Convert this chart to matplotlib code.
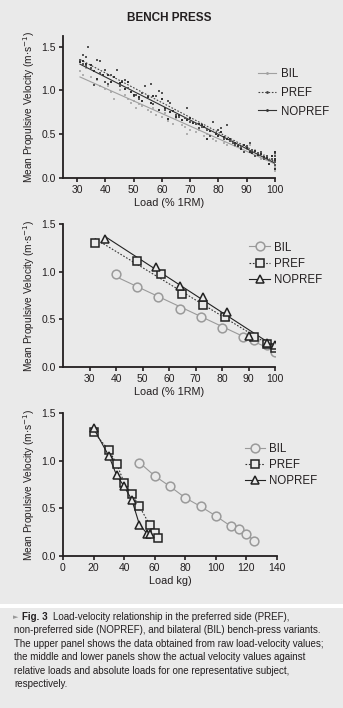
import matplotlib.pyplot as plt
import numpy as np
from matplotlib.patches import Rectangle

plt.rcParams['font.family'] = ['Liberation Sans Narrow', 'Liberation Sans', 'DejaVu Sans']
BG = '#eaeaea'
INK = '#231f20'

# ---- upper panel: raw load-velocity values ----
pref_raw_x = [31, 32, 32, 33, 33, 34, 35, 36, 37, 38, 38, 40, 40, 41, 42, 44, 45, 46, 47, 48,
              50, 51, 52, 53, 54, 55, 56, 57, 58, 59, 60, 61, 62, 63, 64, 65, 66, 68, 69, 70,
              72, 73, 74, 76, 77, 78, 79, 80, 81, 82, 83, 84, 85, 86, 88, 89, 90, 91, 92, 93,
              94, 95, 96, 97, 98, 99, 100, 100, 100, 100]
pref_raw_y = [1.35, 1.40, 1.30, 1.28, 1.38, 1.49, 1.25, 1.06, 1.35, 1.33, 1.20, 1.23, 1.10, 1.07, 1.17, 1.23, 1.05, 1.11, 1.12, 1.03,
              0.93, 0.95, 0.90, 0.97, 1.05, 0.93, 1.07, 0.84, 0.93, 0.99, 0.97, 0.78, 0.88, 0.86, 0.77, 0.72, 0.70, 0.68, 0.80, 0.64,
              0.62, 0.57, 0.58, 0.55, 0.48, 0.64, 0.51, 0.55, 0.57, 0.45, 0.60, 0.42, 0.40, 0.38, 0.35, 0.30, 0.36, 0.40, 0.32, 0.25,
              0.28, 0.30, 0.22, 0.25, 0.20, 0.22, 0.18, 0.25, 0.15, 0.28]
nopref_raw_x = [31, 32, 33, 35, 36, 37, 39, 41, 42, 43, 45, 46, 47, 48, 49, 50, 52, 53, 55, 56,
                57, 59, 60, 61, 62, 63, 64, 65, 66, 67, 69, 70, 71, 73, 74, 75, 76, 77, 79, 80,
                81, 82, 83, 84, 86, 87, 88, 89, 90, 91, 92, 93, 94, 95, 96, 97, 98, 99, 100, 100,
                100, 100]
nopref_raw_y = [1.32, 1.34, 1.30, 1.29, 1.22, 1.13, 1.18, 1.17, 1.10, 1.15, 1.08, 1.10, 1.02, 1.09, 0.98, 0.95, 0.92, 0.88, 0.92, 0.85,
                0.94, 0.78, 0.90, 0.80, 0.67, 0.75, 0.77, 0.70, 0.72, 0.66, 0.66, 0.68, 0.63, 0.62, 0.60, 0.58, 0.45, 0.54, 0.50, 0.48,
                0.52, 0.47, 0.44, 0.45, 0.40, 0.36, 0.33, 0.38, 0.34, 0.30, 0.28, 0.31, 0.26, 0.27, 0.24, 0.23, 0.16, 0.25, 0.20, 0.22,
                0.10, 0.30]
bil_raw_x = [31, 32, 33, 35, 37, 38, 40, 41, 42, 43, 45, 47, 48, 49, 50, 51, 52, 53, 55, 56,
             57, 58, 60, 61, 62, 64, 65, 67, 68, 69, 70, 72, 73, 75, 76, 78, 79, 80, 82, 83,
             85, 86, 88, 89, 90, 91, 92, 93, 94, 95, 96, 97, 98, 99, 100, 100, 100, 100]
bil_raw_y = [1.22, 1.18, 1.25, 1.15, 1.12, 1.05, 1.02, 1.05, 0.98, 0.90, 1.00, 0.95, 0.90, 0.85, 0.88, 0.80, 0.84, 0.82, 0.78, 0.75,
             0.80, 0.72, 0.70, 0.74, 0.65, 0.62, 0.68, 0.60, 0.58, 0.50, 0.55, 0.52, 0.55, 0.48, 0.50, 0.45, 0.42, 0.48, 0.40, 0.38,
             0.42, 0.36, 0.35, 0.30, 0.33, 0.38, 0.30, 0.32, 0.28, 0.22, 0.26, 0.25, 0.21, 0.18, 0.19, 0.12, 0.08, 0.26]

# ---- middle panel: one subject, relative load (% 1RM) ----
bil_rel_x = [40, 48, 56, 64, 72, 80, 88, 92, 97, 100]
bil_rel_y = [0.98, 0.84, 0.73, 0.61, 0.52, 0.41, 0.31, 0.28, 0.235, 0.16]
pref_rel_x = [32, 48, 57, 65, 73, 81, 92, 97, 100]
pref_rel_y = [1.30, 1.11, 0.98, 0.77, 0.65, 0.52, 0.31, 0.24, 0.20]
nopref_rel_x = [36, 55, 64, 73, 82, 90, 97, 100]
nopref_rel_y = [1.34, 1.05, 0.85, 0.73, 0.58, 0.33, 0.25, 0.23]

# ---- lower panel: same subject, absolute load (kg) ----
bil_kg_x = [50, 60, 70, 80, 90, 100, 110, 115, 120, 125]
bil_kg_y = [0.98, 0.84, 0.73, 0.61, 0.52, 0.42, 0.31, 0.28, 0.235, 0.155]
pref_kg_x = [20, 30, 35, 40, 45, 50, 57, 60, 62]
pref_kg_y = [1.30, 1.11, 0.97, 0.77, 0.65, 0.52, 0.32, 0.24, 0.19]
nopref_kg_x = [20, 30, 35, 40, 45, 50, 55, 57]
nopref_kg_y = [1.34, 1.05, 0.85, 0.73, 0.59, 0.33, 0.235, 0.23]

ylabel = 'Mean Propulsive Velocity (m$\\cdot$s$^{-1}$)'
caption = ['Load-velocity relationship in the preferred side (PREF),',
           'non-preferred side (NOPREF), and bilateral (BIL) bench-press variants.',
           'The upper panel shows the data obtained from raw load-velocity values;',
           'the middle and lower panels show the actual velocity values against',
           'relative loads and absolute loads for one representative subject,',
           'respectively.']

W, H = 343, 708
fig = plt.figure(figsize=(W / 100, H / 100), dpi=100, facecolor=BG)
TICKFONT = ['Liberation Sans', 'DejaVu Sans']


def box(l, r, t, b):
    return [l / W, 1 - b / H, (r - l) / W, (b - t) / H]


def style(ax):
    ax.set_facecolor(BG)
    for s in ['top', 'right']:
        ax.spines[s].set_visible(False)
    for s in ['left', 'bottom']:
        ax.spines[s].set_linewidth(1.3)
        ax.spines[s].set_color(INK)
    ax.tick_params(direction='out', length=3, width=1.2, labelsize=7.5, colors=INK, pad=2)
    ax.set_ylabel(ylabel, fontsize=7.3, color=INK, labelpad=3)
    ax.set_yticks([0.0, 0.5, 1.0, 1.5])
    ax.set_yticklabels(['0.0', '0.5', '1.0', '1.5'])
    for t in ax.get_xticklabels() + ax.get_yticklabels():
        t.set_family(TICKFONT)


def fitline(ax, x, y, **kw):
    p = np.polyfit(x, y, 1)
    xx = np.array([min(x), max(x)])
    ax.plot(xx, np.polyval(p, xx), **kw)


MS = 6.3

# upper
ax1 = fig.add_axes(box(63, 275, 36, 178))
ax1.scatter(bil_raw_x, bil_raw_y, s=3, marker='s', color='#b0b0b0', lw=0, zorder=2)
ax1.scatter(pref_raw_x, pref_raw_y, s=3, marker='s', color='#555555', lw=0, zorder=3)
ax1.scatter(nopref_raw_x, nopref_raw_y, s=3, marker='s', color='#333333', lw=0, zorder=3)
fitline(ax1, bil_raw_x, bil_raw_y, color='#a0a0a0', lw=0.8)
fitline(ax1, pref_raw_x, pref_raw_y, color='#444444', lw=0.8, ls=(0, (1.5, 1.5)))
fitline(ax1, nopref_raw_x, nopref_raw_y, color='#333333', lw=0.8)
ax1.plot([], [], color='#a0a0a0', lw=0.8, marker='.', ms=2, label='BIL')
ax1.plot([], [], color='#444444', lw=0.8, ls=(0, (1.5, 1.5)), marker='.', ms=2, label='PREF')
ax1.plot([], [], color='#333333', lw=0.8, marker='.', ms=2, label='NOPREF')
ax1.set_xlim(25, 100)
ax1.set_ylim(0, 1.62)
ax1.set_xticks(range(30, 101, 10))
style(ax1)
ax1.set_xlabel('Load (% 1RM)', fontsize=7.8, color=INK, labelpad=2)
ax1.legend(loc='upper left', bbox_to_anchor=(0.87, 0.85), frameon=False, fontsize=8.3,
           handlelength=1.6, handletextpad=0.4, labelspacing=0.6, labelcolor=INK)
ax1.set_title('BENCH PRESS', fontsize=8.5, fontweight='bold', color=INK, pad=11)

# middle
ax2 = fig.add_axes(box(63, 275, 224, 367))
fitline(ax2, bil_rel_x, bil_rel_y, color='#9a9a9a', lw=0.8, zorder=1)
fitline(ax2, pref_rel_x, pref_rel_y, color='#333333', lw=0.8, ls=(0, (1.5, 1.5)), zorder=1)
fitline(ax2, nopref_rel_x, nopref_rel_y, color='#222222', lw=0.8, zorder=1)
ax2.plot(bil_rel_x, bil_rel_y, ls='none', marker='o', ms=MS, mfc=BG, mec='#9a9a9a', mew=1.1)
ax2.plot(pref_rel_x, pref_rel_y, ls='none', marker='s', ms=MS, mfc=BG, mec='#222222', mew=1.1)
ax2.plot(nopref_rel_x, nopref_rel_y, ls='none', marker='^', ms=MS, mfc=BG, mec='#222222', mew=1.1)
ax2.set_xlim(20, 100)
ax2.set_ylim(0, 1.5)
ax2.set_xticks(range(30, 101, 10))
style(ax2)
ax2.set_xlabel('Load (% 1RM)', fontsize=7.8, color=INK, labelpad=2)
h = [plt.Line2D([], [], color='#9a9a9a', lw=0.8, marker='o', ms=MS, mfc=BG, mec='#9a9a9a', mew=1.1),
     plt.Line2D([], [], color='#333333', lw=0.8, ls=(0, (1.5, 1.5)), marker='s', ms=MS, mfc=BG, mec='#222222', mew=1.1),
     plt.Line2D([], [], color='#222222', lw=0.8, marker='^', ms=MS, mfc=BG, mec='#222222', mew=1.1)]
ax2.legend(h, ['BIL', 'PREF', 'NOPREF'], loc='upper left', bbox_to_anchor=(0.83, 0.95), frameon=False,
           fontsize=8.3, handlelength=1.8, handletextpad=0.3, labelspacing=0.35, labelcolor=INK)

# lower
ax3 = fig.add_axes(box(63, 277, 413, 556))
ax3.plot(bil_kg_x, bil_kg_y, color='#9a9a9a', lw=0.8, marker='o', ms=MS, mfc=BG, mec='#9a9a9a', mew=1.1)
ax3.plot(pref_kg_x, pref_kg_y, color='#333333', lw=0.8, ls=(0, (1.5, 1.5)), marker='s', ms=MS, mfc=BG, mec='#222222', mew=1.1)
ax3.plot(nopref_kg_x, nopref_kg_y, color='#222222', lw=0.8, marker='^', ms=MS, mfc=BG, mec='#222222', mew=1.1)
ax3.set_xlim(0, 140)
ax3.set_ylim(0, 1.5)
ax3.set_xticks(range(0, 141, 20))
style(ax3)
ax3.set_xlabel('Load kg)', fontsize=7.8, color=INK, labelpad=2)
ax3.legend(h, ['BIL', 'PREF', 'NOPREF'], loc='upper left', bbox_to_anchor=(0.8, 0.86), frameon=False,
           fontsize=8.3, handlelength=1.8, handletextpad=0.3, labelspacing=0.35, labelcolor=INK)

# white separator and caption
fig.add_artist(Rectangle((0, 1 - 608 / H), 1, 4 / H, transform=fig.transFigure, color='white', lw=0))
fig.text(13 / W, 1 - 617 / H, '\u25ba', fontsize=5, color='#999999', va='center',
         family=['DejaVu Sans'])
fig.text(22 / W, 1 - 617 / H, 'Fig. 3', fontsize=7, fontweight='bold', color=INK, va='center')
for i, line in enumerate(caption):
    x0 = 53 if i == 0 else 14
    fig.text(x0 / W, 1 - (617 + i * 13.4) / H, line, fontsize=7, color=INK, va='center')

fig.savefig('out.png', dpi=100, facecolor=BG)
